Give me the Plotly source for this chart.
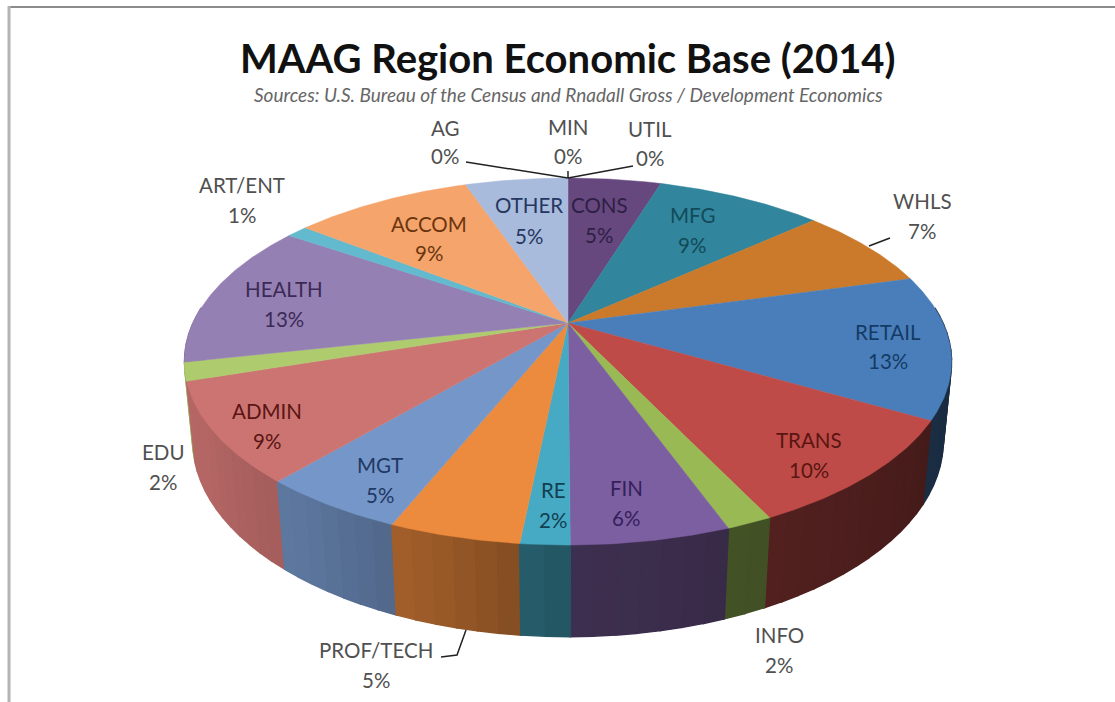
import numpy as np
import plotly.graph_objects as go

# ---- data (clockwise from 12 o'clock) ----
categories = ["UTIL", "CONS", "MFG", "WHLS", "RETAIL", "TRANS", "INFO", "FIN", "RE",
              "PROF/TECH", "MGT", "ADMIN", "EDU", "HEALTH", "ART/ENT", "ACCOM", "OTHER", "AG", "MIN"]
shares = [0.0, 4.8, 8.6, 7.3, 12.6, 9.5, 1.6, 5.5, 1.7,
          4.55, 5.1, 8.7, 1.6, 12.8, 1.1, 9.2, 5.3, 0.0, 0.0]

# ---- styles ----
top_colors = ["#8F8F8F", "#66487F", "#31859C", "#CB7A2B", "#4A7EBB", "#BE4B48", "#98B954", "#7C5FA0",
              "#46AAC4", "#EC8A3D", "#7596C8", "#CC7472", "#AECB6E", "#9580B4", "#63B9CE", "#F5A56B",
              "#A9BBDC", "#888888", "#888888"]
label_colors = {"CONS": "#2E1F45", "MFG": "#124A58", "RETAIL": "#143B66", "TRANS": "#5A1512",
                "FIN": "#35205C", "RE": "#123F52", "MGT": "#1F3864", "ADMIN": "#5A1512",
                "HEALTH": "#3B2A55", "ACCOM": "#6B3510", "OTHER": "#25375F"}
label_pos = {"AG": (445, 128, 156), "MIN": (568, 127, 156), "UTIL": (650, 129, 158), "WHLS": (922, 201, 231),
             "ART/ENT": (242, 185, 215), "ACCOM": (429, 224, 253), "OTHER": (529, 205, 236), "CONS": (599, 205, 235),
             "MFG": (692, 215, 245), "RETAIL": (888, 332, 361), "TRANS": (809, 440, 470), "HEALTH": (284, 289, 319),
             "ADMIN": (267, 411, 441), "MGT": (380, 465, 495), "RE": (553, 490, 520), "FIN": (626, 488, 518),
             "EDU": (163, 452, 482), "INFO": (779, 635, 665), "PROF/TECH": (376, 650, 680)}
leaders = [([466, 568], [162, 178]), ([568, 568], [171, 178]), ([633, 568], [166, 178]),
           ([869, 890], [246, 238]), ([441, 457, 466], [657, 655, 630])]

# ---- perspective model of the disc ----
CX, CY, R, B, K, H, M = 568, 323, 375, 175.4, 0.21, 79, 0.021


def project(theta_deg, z=0.0, r=1.0):
    t = np.radians(theta_deg)
    u, v = r * np.sin(t), -r * np.cos(t)
    w = 1 - K * v + M * z
    return CX + R * u / w, CY + (B * v + H * z) / w


def shade(hex_color, f):
    rgb = [int(hex_color[i:i + 2], 16) for i in (1, 3, 5)]
    return "rgb(%d,%d,%d)" % tuple(int(round(c * f)) for c in rgb)


vals = np.array(shares, dtype=float)
edges = np.concatenate([[0], np.cumsum(vals) / vals.sum() * 360])

fig = go.Figure()
panels = []
for i, name in enumerate(categories):
    a0, a1 = edges[i], edges[i + 1]
    lo, hi = max(a0, 85), min(a1, 275)
    if hi <= lo:
        continue
    n = max(2, int((hi - lo) / 2.5) + 1)
    s = np.linspace(lo, hi, n)
    for p, q in zip(s[:-1], s[1:]):
        panels.append((p, q, top_colors[i]))
panels.sort(key=lambda x: -abs((x[0] + x[1]) / 2 - 180))
for p, q, col in panels:
    m = (p + q) / 2
    f = np.interp(m, [85, 120, 150, 180, 195, 215, 240, 275], [0.32, 0.36, 0.42, 0.5, 0.64, 0.78, 0.88, 0.9])
    arc = np.linspace(p, q, 4)
    xt, yt = project(arc)
    xb, yb = project(arc[::-1], 1.0)
    c = shade(col, f)
    fig.add_trace(go.Scatter(x=np.r_[xt, xb, xt[0]], y=np.r_[yt, yb, yt[0]], mode="lines", fill="toself",
                             fillcolor=c, line=dict(color=c, width=1.5), hoverinfo="skip", showlegend=False))

for i, name in enumerate(categories):
    if vals[i] <= 0:
        continue
    arc = np.linspace(edges[i], edges[i + 1], max(3, int(edges[i + 1] - edges[i]) * 2))
    xs, ys = project(arc)
    fig.add_trace(go.Scatter(x=np.r_[CX, xs, CX], y=np.r_[CY, ys, CY], mode="lines", fill="toself",
                             fillcolor=top_colors[i], line=dict(color=top_colors[i], width=0.5),
                             name=name, text=f"{name} {vals[i]:.1f}%", hoverinfo="text", showlegend=False))

for xs, ys in leaders:
    fig.add_trace(go.Scatter(x=xs, y=ys, mode="lines", line=dict(color="#222222", width=1.5),
                             hoverinfo="skip", showlegend=False))

ann = []
for name, v in zip(categories, shares):
    x, y1, y2 = label_pos[name]
    col = label_colors.get(name, "#505050")
    for txt, y in ((name, y1), (f"{round(v)}%", y2)):
        ann.append(dict(x=x, y=y, text=txt, showarrow=False, xref="x", yref="y", xanchor="center", yanchor="middle",
                        font=dict(family="Lato", size=20.5, color=col)))
ann.append(dict(x=568, y=58, text="<b>MAAG Region Economic Base (2014)</b>", showarrow=False, xref="x", yref="y",
                xanchor="center", yanchor="middle", font=dict(family="Lato", size=40, color="#111111")))
ann.append(dict(x=568, y=94, text="<i>Sources: U.S. Bureau of the Census and Rnadall Gross / Development Economics</i>",
                showarrow=False, xref="x", yref="y", xanchor="center", yanchor="middle",
                font=dict(family="Lato", size=19, color="#666666")))

frame = [dict(type="line", xref="x", yref="y", x0=8, x1=1115, y0=7, y1=7, line=dict(color="#8C8C8C", width=2)),
         dict(type="line", xref="x", yref="y", x0=9, x1=9, y0=6, y1=702, line=dict(color="#B4B4B4", width=3))]

fig.update_layout(width=1115, height=702, margin=dict(l=0, r=0, t=0, b=0), paper_bgcolor="white",
                  plot_bgcolor="white", showlegend=False, annotations=ann, shapes=frame,
                  xaxis=dict(range=[0, 1115], visible=False, fixedrange=True),
                  yaxis=dict(range=[702, 0], visible=False, fixedrange=True))
fig.write_html("out.html", config=dict(displayModeBar=False),
               post_script="document.body.style.margin='0';document.body.style.overflow='hidden';")
